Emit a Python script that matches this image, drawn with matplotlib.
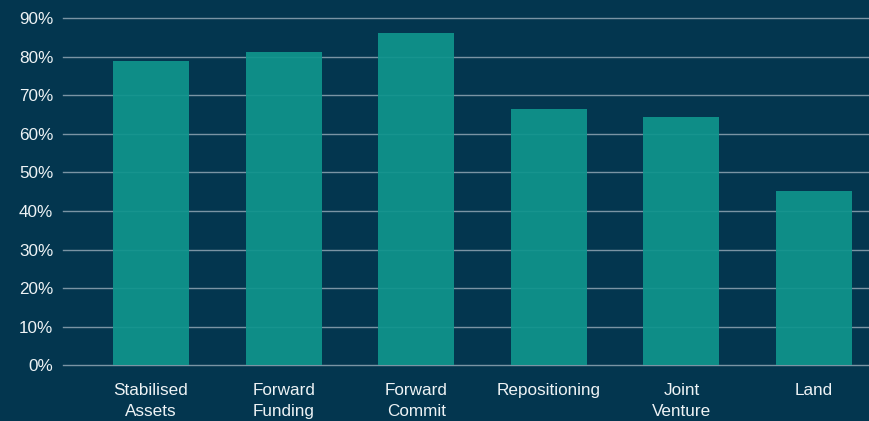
import matplotlib
matplotlib.use("Agg")
import matplotlib.pyplot as plt
from matplotlib.ticker import FuncFormatter

categories = ["Stabilised\nAssets", "Forward\nFunding", "Forward\nCommit",
              "Repositioning", "Joint\nVenture", "Land"]
values = [78.8, 81.2, 86.1, 66.4, 64.4, 45.2]
y_ticks = [0, 10, 20, 30, 40, 50, 60, 70, 80, 90]

BG = "#03364f"
BAR = "#0f958d"
GRID = "#7a94a4"
TEXT = "#eef3f5"

plt.rcParams["font.family"] = ["Liberation Sans", "DejaVu Sans"]

fig = plt.figure(figsize=(8.69, 4.21), dpi=100, facecolor=BG)
ax = fig.add_axes([63 / 869, 1 - 365.3 / 421, 1 - 63 / 869, 365.3 / 421])
ax.set_facecolor(BG)

x = list(range(len(categories)))
ax.bar(x, values, width=0.573, color=BAR, alpha=0.92, zorder=3)

ax.set_xlim(-0.664, 5.415)
ax.set_ylim(0, 94.65)
ax.set_yticks(y_ticks)
ax.yaxis.set_major_formatter(FuncFormatter(lambda v, _: f"{v:.0f}%"))
ax.set_xticks(x)
ax.set_xticklabels(categories, linespacing=1.45)

ax.grid(axis="y", color=GRID, linewidth=1.0, zorder=1)
ax.grid(axis="x", visible=False)
for line in ax.get_ygridlines():
    line.set_clip_on(False)
for s in ax.spines.values():
    s.set_visible(False)

ax.tick_params(axis="y", length=0, pad=7, labelcolor=TEXT, labelsize=12.3)
ax.tick_params(axis="x", length=0, pad=13, labelcolor=TEXT, labelsize=12.3)

fig.savefig("out.png", dpi=100, facecolor=BG)
